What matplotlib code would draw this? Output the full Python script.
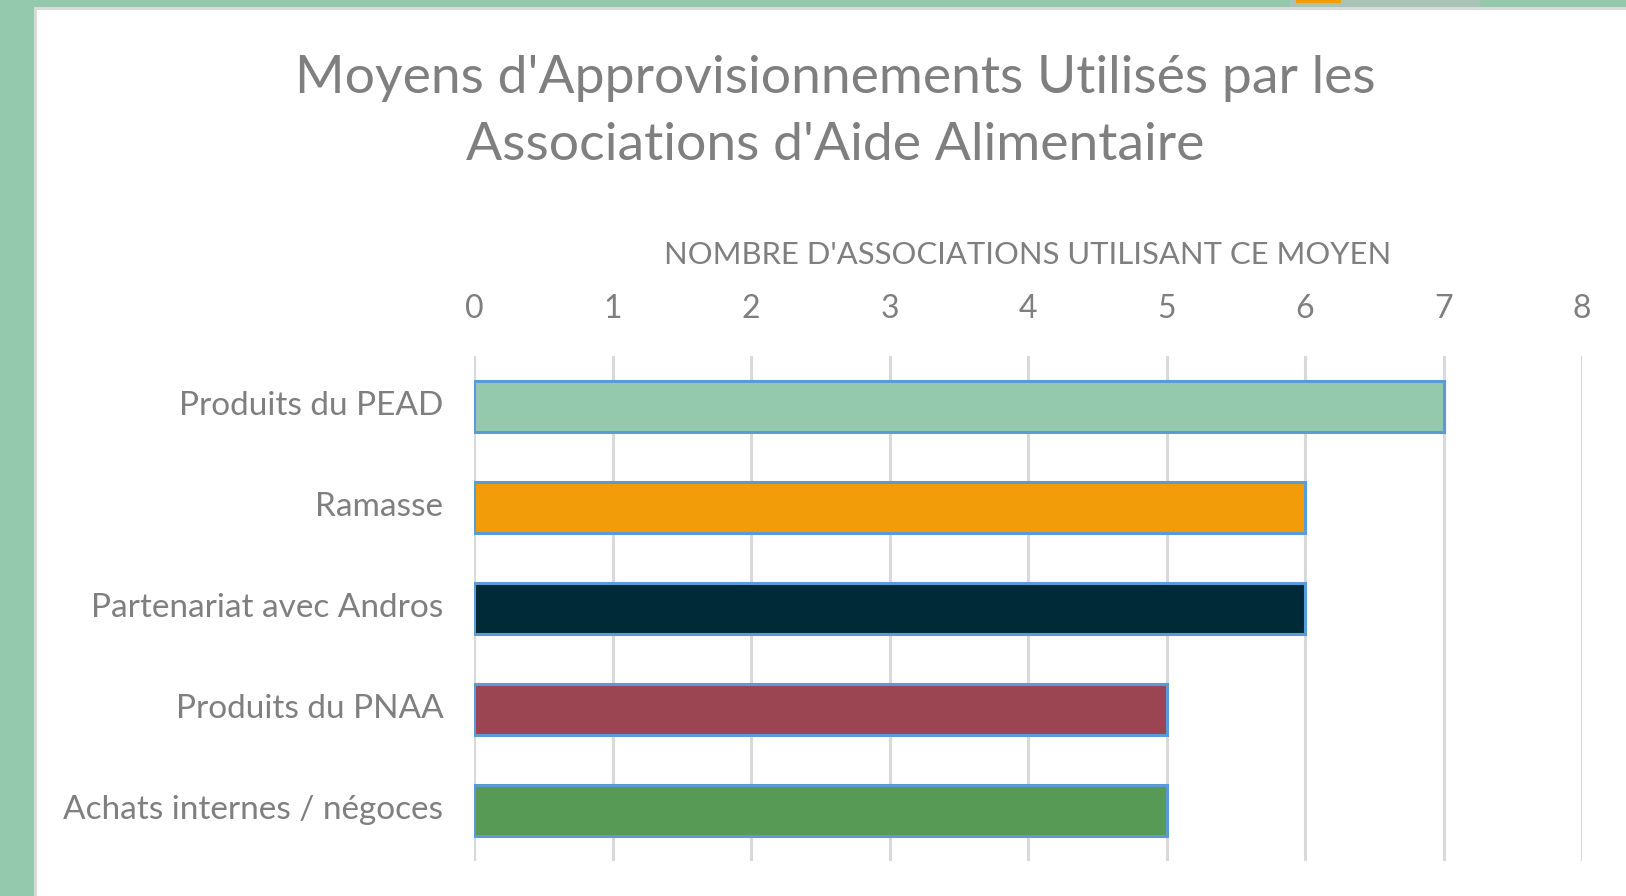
import matplotlib
matplotlib.use("Agg")
import matplotlib.pyplot as plt
from matplotlib.patches import Rectangle
from matplotlib.transforms import ScaledTranslation

categories = ["Produits du PEAD", "Ramasse", "Partenariat avec Andros",
              "Produits du PNAA", "Achats internes / négoces"]
values = [7, 6, 6, 5, 5]
bar_colors = ["#95C9AE", "#F39C0A", "#002A38", "#9B4553", "#569A56"]
x_ticks = [0, 1, 2, 3, 4, 5, 6, 7, 8]
title = "Moyens d'Approvisionnements Utilisés par les\nAssociations d'Aide Alimentaire"
x_label = "NOMBRE D'ASSOCIATIONS UTILISANT CE MOYEN"

plt.rcParams['font.family'] = ['Lato', 'DejaVu Sans']
GRAY = "#7F7F7F"

W, H = 1626, 896
fig = plt.figure(figsize=(W / 100, H / 100), dpi=100)
fig.patch.set_facecolor("white")

# frame: green band on left/top with thin gray border
fig.add_artist(Rectangle((0, 0), 34 / W, 1, transform=fig.transFigure,
                         facecolor="#95C9AE", edgecolor="none", zorder=0))
fig.add_artist(Rectangle((0, 1 - 7 / H), 1, 7 / H, transform=fig.transFigure,
                         facecolor="#95C9AE", edgecolor="none", zorder=0))
fig.add_artist(Rectangle((34 / W, 0), 3 / W, 1 - 7 / H, transform=fig.transFigure,
                         facecolor="#D9D9D9", edgecolor="none", zorder=0))
fig.add_artist(Rectangle((34 / W, 1 - 10 / H), 1, 3 / H, transform=fig.transFigure,
                         facecolor="#D9D9D9", edgecolor="none", zorder=0))
fig.add_artist(Rectangle((1290 / W, 1 - 7 / H), 190 / W, 7 / H, transform=fig.transFigure,
                         facecolor="#A9C4B6", edgecolor="none", zorder=0))
fig.add_artist(Rectangle((1296 / W, 1 - 3 / H), 45 / W, 3 / H, transform=fig.transFigure,
                         facecolor="#F39C0A", edgecolor="none", zorder=0))

# axes: x from 474 to 1582 px, y from 356 to 861 px (top-down)
left, right = 474 / W, 1582 / W
top, bottom = 1 - 356 / H, 1 - 861 / H
ax = fig.add_axes([left, bottom, right - left, top - bottom])

ypos = list(range(len(categories)))
ax.barh(ypos, values, height=0.5, color=bar_colors, edgecolor="#5B9BD5",
        linewidth=2.2, zorder=3)
ax.set_ylim(len(categories) - 0.5, -0.5)
ax.set_xlim(0, 8)
ax.set_xticks(x_ticks)
ax.set_xticklabels([str(t) for t in x_ticks])
ax.set_yticks(ypos)
ax.set_yticklabels(categories)

ax.xaxis.tick_top()
ax.xaxis.set_label_position("top")
ax.set_xlabel(x_label, color=GRAY, fontsize=22.3, labelpad=22)
ax.tick_params(axis="x", length=0, pad=23, labelsize=23, labelcolor=GRAY)
ax.tick_params(axis="y", length=0, pad=22, labelsize=24, labelcolor=GRAY)

shift = ScaledTranslation(0, 4 / 100, fig.dpi_scale_trans)
for lab in ax.get_yticklabels():
    lab.set_transform(lab.get_transform() + shift)

ax.grid(axis="x", color="#D9D9D9", linewidth=2.2, zorder=0)
ax.set_axisbelow(True)
for s in ax.spines.values():
    s.set_visible(False)
ax.set_facecolor("white")

fig.text(835 / W, 1 - 112 / H, title, ha="center", va="center",
         fontsize=38.5, color=GRAY, linespacing=1.55)

fig.savefig("out.png", dpi=100, facecolor=fig.get_facecolor())
